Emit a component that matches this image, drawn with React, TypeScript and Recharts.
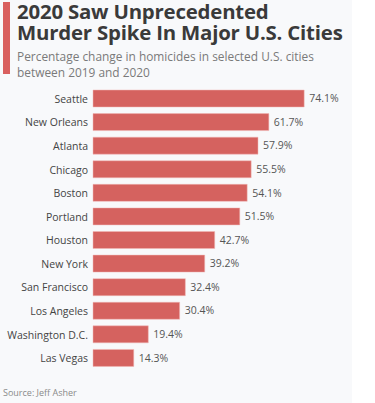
import { BarChart, Bar, XAxis, YAxis, LabelList } from 'recharts'

const cities = [
  'Seattle', 'New Orleans', 'Atlanta', 'Chicago', 'Boston', 'Portland',
  'Houston', 'New York', 'San Francisco', 'Los Angeles', 'Washington D.C.', 'Las Vegas',
]
const changes = [74.1, 61.7, 57.9, 55.5, 54.1, 51.5, 42.7, 39.2, 32.4, 30.4, 19.4, 14.3]

const data = cities.map((city, i) => ({ city, pct: changes[i] }))

const font = '"Open Sans", sans-serif'

function CityTick(props: any) {
  const { x, y, payload } = props
  return (
    <text x={x} y={y} dy={4} textAnchor="end" fontSize={10.5} fill="#444" fontFamily={font}>
      {payload.value}
    </text>
  )
}

const titleStyle = { position: 'absolute' as const, left: 17, fontSize: 20.4, fontWeight: 700, lineHeight: '21px', color: '#3a3a3a', letterSpacing: -0.2, whiteSpace: 'nowrap' as const }
const subStyle = { position: 'absolute' as const, left: 17, fontSize: 11.9, lineHeight: '16px', color: '#7a7a7a', whiteSpace: 'nowrap' as const }

export default function App() {
  return (
    <div style={{ position: 'absolute', top: 0, left: 0, width: 375, height: 403, background: '#fff', fontFamily: font, overflow: 'hidden' }}>
      <div style={{ position: 'absolute', left: 0, top: 0, width: 352, height: 403, background: '#f8f9fb' }} />
      <div style={{ position: 'absolute', left: 3, top: 2, width: 7, height: 72, background: '#d9605f' }} />
      <div style={{ ...titleStyle, top: 1 }}>2020 Saw Unprecedented</div>
      <div style={{ ...titleStyle, top: 22 }}>Murder Spike In Major U.S. Cities</div>
      <div style={{ ...subStyle, top: 48 }}>Percentage change in homicides in selected U.S. cities</div>
      <div style={{ ...subStyle, top: 64 }}>between 2019 and 2020</div>
      <div style={{ position: 'absolute', top: 0, left: 0 }}>
        <BarChart
          width={375}
          height={403}
          data={data}
          layout="vertical"
          margin={{ top: 87, right: 54, bottom: 33, left: 0 }}
          barCategoryGap={3.3}
        >
          <XAxis type="number" domain={[0, 80]} hide />
          <YAxis
            type="category"
            dataKey="city"
            width={93}
            axisLine={false}
            tickLine={false}
            tickSize={0}
            tickMargin={5}
            interval={0}
            tick={<CityTick />}
          />
          <Bar dataKey="pct" fill="#d5625f" stroke="#f0b8b6" strokeWidth={0.5} barSize={17} isAnimationActive={false}>
            <LabelList
              dataKey="pct"
              position="right"
              offset={5}
              formatter={(v: any) => `${v}%`}
              style={{ fontSize: 10.5, fill: '#555', fontFamily: font }}
            />
          </Bar>
        </BarChart>
      </div>
      <div style={{ position: 'absolute', left: 3, top: 386, fontSize: 9, color: '#8a8a8a' }}>Source: Jeff Asher</div>
    </div>
  )
}
